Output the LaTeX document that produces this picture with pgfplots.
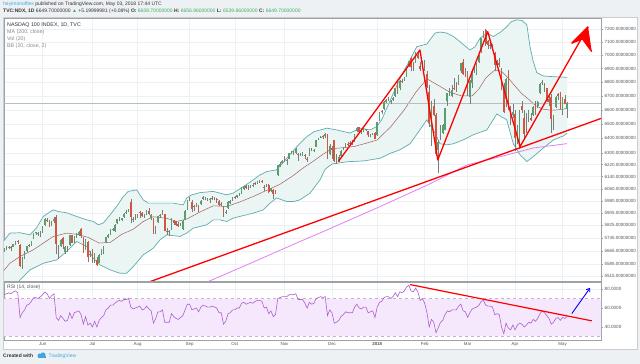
\documentclass[border=0pt]{standalone}
\usepackage{pgfplots}
\pgfplotsset{compat=1.18}
\usepackage{pgfplotstable}
\usetikzlibrary{arrows.meta}
\usepackage{fontspec}
\setmainfont{Liberation Sans}
\definecolor{bgc}{HTML}{EEF1F4}
\definecolor{panelb}{HTML}{C9CDD1}
\definecolor{axc}{HTML}{9DA2A7}
\definecolor{gridc}{HTML}{EEF1F3}
\definecolor{labc}{HTML}{555555}
\definecolor{txtc}{HTML}{333333}
\definecolor{legc}{HTML}{8A8A8A}
\definecolor{userc}{HTML}{3FA7E0}
\definecolor{upg}{HTML}{3DAF63}
\definecolor{upc}{HTML}{5A9E6F}
\definecolor{dnc}{HTML}{D05642}
\definecolor{wickc}{HTML}{7B7B7B}
\definecolor{bbline}{HTML}{5FACAC}
\definecolor{bbfill}{HTML}{EBF5F4}
\definecolor{basisc}{HTML}{A06060}
\definecolor{ma200c}{HTML}{E57EF2}
\definecolor{rsic}{HTML}{AD5FCB}
\definecolor{rsifill}{HTML}{F5E8FD}
\definecolor{rsidash}{HTML}{C7AFD3}
\definecolor{badge}{HTML}{5E9B72}
\definecolor{pricel}{HTML}{B5BEC0}
\newcommand\fs[1]{\fontsize{#1}{#1}\selectfont}

\pgfplotstableread{
i o h l c
-17 5668 5685 5660 5676
-16 5680 5695 5672 5688
-15 5686 5700 5678 5693
-14 5690 5698 5665 5689
-13 5692 5712 5688 5708
-12 5710 5728 5705 5722
-11 5726 5735 5712 5720
-10 5705 5708 5570 5578
-9 5580 5630 5560 5615
-8 5625 5668 5618 5655
-7 5665 5700 5660 5695
-6 5702 5710 5688 5700
-5 5705 5730 5698 5726
-4 5740 5780 5738 5775
-3 5778 5785 5765 5778
-2 5772 5785 5760 5775
-1 5778 5790 5755 5788
0 5792 5820 5780 5816
1 5825 5872 5820 5866
2 5860 5870 5845 5855
3 5845 5860 5815 5822
4 5830 5850 5820 5846
5 5850 5878 5838 5868
6 5880 5890 5650 5708
7 5690 5705 5620 5680
8 5700 5740 5690 5735
9 5745 5752 5680 5712
10 5660 5700 5650 5690
11 5690 5700 5660 5681
12 5705 5768 5700 5763
13 5765 5768 5715 5717
14 5725 5760 5715 5757
15 5758 5775 5748 5765
16 5765 5790 5760 5783
17 5800 5810 5745 5756
18 5745 5750 5655 5656
19 5675 5740 5672 5733
20 5722 5725 5600 5631
21 5650 5665 5630 5647
22 5665 5680 5595 5600
23 5615 5655 5595 5648
24 5610 5630 5575 5584
25 5595 5650 5593 5644
26 5645 5680 5640 5677
27 5670 5700 5650 5693
28 5720 5755 5715 5752
29 5755 5772 5745 5766
30 5770 5800 5765 5796
31 5800 5810 5790 5801
32 5790 5832 5785 5829
33 5840 5866 5835 5863
34 5868 5880 5855 5872
35 5860 5875 5850 5870
36 5878 5905 5875 5900
37 5905 5920 5895 5912
38 5920 5930 5910 5922
39 5975 5996 5840 5880
40 5860 5880 5845 5868
41 5885 5895 5860 5870
42 5880 5900 5875 5898
43 5910 5915 5870 5906
44 5905 5908 5880 5882
45 5888 5895 5875 5888
46 5890 5920 5888 5918
47 5915 5935 5890 5898
48 5875 5895 5860 5889
49 5870 5872 5770 5773
50 5780 5820 5770 5808
51 5845 5885 5840 5883
52 5890 5895 5875 5888
53 5895 5920 5890 5907
54 5895 5898 5790 5792
55 5790 5810 5765 5787
56 5785 5795 5760 5786
57 5800 5875 5798 5872
58 5855 5860 5830 5841
59 5850 5855 5820 5825
60 5835 5845 5815 5819
61 5830 5840 5820 5837
62 5800 5858 5795 5854
63 5860 5920 5858 5918
64 5930 5990 5925 5988
65 5995 6005 5980 5990
66 5975 5985 5910 5930
67 5940 5955 5915 5947
68 5955 5970 5940 5960
69 5950 5955 5910 5919
70 5960 5990 5955 5984
71 5995 6010 5985 6007
72 6000 6005 5990 6000
73 5990 5998 5980 5986
74 5985 6000 5970 5994
75 6000 6010 5985 5998
76 6000 6005 5985 5995
77 5995 6000 5965 5988
78 5980 5985 5950 5958
79 5955 5972 5948 5960
80 5945 5950 5880 5897
81 5910 5925 5895 5913
82 5935 5980 5930 5975
83 5965 5985 5960 5980
84 5985 6008 5980 6004
85 6008 6015 5995 6004
86 6008 6022 6000 6019
87 6015 6030 6010 6019
88 6030 6072 6028 6070
89 6060 6080 6055 6076
90 6078 6085 6060 6068
91 6080 6088 6055 6074
92 6075 6088 6065 6085
93 6082 6095 6075 6083
94 6095 6102 6088 6094
95 6100 6112 6092 6109
96 6105 6115 6098 6110
97 6112 6118 6098 6107
98 6075 6085 6045 6070
99 6085 6090 6070 6080
100 6085 6090 6030 6038
101 6045 6065 6040 6060
102 6055 6060 5995 6028
103 6045 6055 6025 6038
104 6150 6220 6145 6217
105 6210 6235 6205 6226
106 6232 6250 6222 6248
107 6270 6280 6235 6251
108 6245 6260 6220 6249
109 6260 6300 6258 6296
110 6295 6310 6290 6300
111 6302 6315 6285 6300
112 6300 6330 6292 6326
113 6295 6300 6245 6290
114 6282 6298 6275 6293
115 6280 6305 6278 6296
116 6285 6292 6255 6280
117 6260 6270 6240 6254
118 6280 6335 6278 6331
119 6330 6335 6310 6314
120 6318 6325 6305 6320
121 6340 6390 6338 6388
122 6392 6402 6388 6399
123 6405 6415 6400 6411
124 6412 6420 6395 6406
125 6415 6440 6400 6431
126 6430 6432 6255 6270
127 6290 6360 6285 6346
128 6330 6345 6260 6320
129 6385 6390 6235 6245
130 6245 6295 6225 6250
131 6240 6285 6235 6270
132 6275 6320 6272 6312
133 6330 6342 6318 6334
134 6340 6368 6335 6364
135 6362 6375 6350 6358
136 6365 6380 6355 6362
137 6368 6385 6352 6360
138 6380 6432 6375 6428
139 6450 6480 6445 6473
140 6478 6480 6440 6447
141 6460 6465 6430 6444
142 6452 6475 6445 6461
143 6458 6465 6450 6460
144 6450 6452 6410 6420
145 6420 6432 6408 6425
146 6430 6440 6420 6435
147 6440 6442 6395 6397
148 6420 6515 6415 6511
149 6520 6585 6518 6575
150 6590 6600 6570 6584
151 6605 6660 6600 6654
152 6655 6680 6650 6672
153 6685 6695 6660 6676
154 6655 6670 6640 6660
155 6672 6690 6665 6687
156 6700 6760 6695 6757
157 6790 6810 6715 6735
158 6760 6815 6740 6809
159 6810 6825 6790 6806
160 6815 6840 6805 6835
161 6840 6905 6835 6902
162 6920 6960 6915 6953
163 6980 6990 6880 6909
164 6940 6950 6885 6903
165 6945 7025 6940 7022
166 7005 7015 6970 6979
167 6920 6950 6880 6893
168 6925 6960 6910 6949
169 6920 6965 6880 6919
170 6860 6880 6760 6767
171 6730 6780 6480 6503
172 6400 6660 6350 6650
173 6630 6680 6555 6560
174 6560 6580 6280 6290
175 6320 6390 6165 6372
176 6420 6490 6390 6465
177 6440 6500 6430 6490
178 6460 6615 6455 6611
179 6660 6718 6630 6717
180 6710 6760 6700 6712
181 6700 6780 6695 6745
182 6760 6830 6745 6747
183 6770 6800 6730 6749
184 6790 6850 6780 6850
185 6880 6940 6870 6939
186 6950 6970 6855 6856
187 6890 6905 6840 6847
188 6850 6880 6700 6734
189 6690 6815 6640 6810
190 6790 6895 6760 6882
191 6900 6915 6870 6905
192 6860 6945 6855 6936
193 6950 6998 6940 6993
194 7030 7130 7020 7129
195 7140 7187 7130 7176
196 7195 7200 7070 7084
197 7110 7120 7050 7075
198 7080 7100 7045 7071
199 7070 7085 7050 7058
200 7020 7025 6880 6926
201 6930 6965 6920 6944
202 6940 6980 6915 6926
203 6880 6905 6745 6751
204 6750 6790 6575 6582
205 6680 6830 6620 6826
206 6870 6890 6595 6612
207 6590 6625 6490 6545
208 6560 6640 6540 6581
209 6570 6600 6310 6399
210 6420 6490 6360 6481
211 6330 6600 6325 6590
212 6630 6660 6580 6599
213 6540 6600 6400 6431
214 6480 6580 6440 6457
215 6540 6600 6510 6582
216 6540 6580 6520 6527
217 6560 6630 6555 6618
218 6650 6665 6560 6580
219 6630 6660 6610 6652
220 6720 6795 6715 6788
221 6795 6815 6780 6795
222 6770 6790 6730 6760
223 6755 6760 6655 6667
224 6680 6700 6630 6655
225 6690 6710 6440 6533
226 6545 6565 6460 6555
227 6620 6700 6610 6690
228 6710 6720 6670 6698
229 6720 6730 6605 6605
230 6590 6695 6560 6690
231 6680 6705 6640 6644
232 6608.7 6656.96 6539.86 6649.7
}\ohlc

\pgfplotstableread{
i p
-17.4 5725
-14.5 5777
-10 5779
-5.6 5766
-2.7 5810
0.3 5882
4.7 5924
6.9 5913
10.6 5905
15 5882
19.5 5860
22.4 5850
24.6 5829
26.8 5840
29.8 5892
32.7 5945
35.7 6010
37.9 6043
41.6 6053
44.5 5988
46.7 5967
51.9 5967
57.8 5967
62.2 5956
63.7 6000
65.9 6020
69.6 6035
75.5 6043
81.4 6020
84.3 6032
88.8 6075
93.2 6119
96.2 6152
99.1 6174
103.5 6185
108 6263
112.4 6342
116.8 6410
120 6445
125.7 6470
130 6458
136 6436
140.4 6470
144.8 6458
147.8 6481
150 6530
153 6640
156 6750
159 6860
162.5 6965
165.5 7065
169.9 7085
173.6 7170
175.8 7177
178.8 7170
181.7 7143
184.6 7104
189 7040
191.3 7065
193.5 7130
196.5 7169
199.4 7143
202.3 7174
204.6 7208
207.5 7260
209.7 7273
212 7268
214.2 7233
215.6 7065
217 6955
218.6 6870
221.5 6845
226 6840
232 6835
}\bbup

\pgfplotstableread{
i p
-17.4 5380
-14 5420
-10 5492
-5.6 5552
0.3 5592
6.2 5612
10.6 5663
15 5725
19.5 5694
22.4 5622
25.4 5582
29.8 5552
34.2 5532
37.2 5532
40.1 5572
44.5 5643
48.9 5683
51.9 5735
54.9 5766
60.8 5756
63.7 5777
66.6 5808
72.6 5829
75.5 5860
78.5 5860
81.4 5850
84.3 5871
87.3 5882
93.2 5903
97.6 5924
100.6 5967
103.5 6000
108 5977
110.9 5977
113.8 5988
118.3 6032
122.7 6119
125 6190
128 6225
135 6240
142 6245
149.3 6263
153.7 6296
158 6320
162.5 6362
166.9 6458
169.9 6528
172.8 6458
175.8 6362
178.8 6354
181.7 6362
186.1 6389
190.5 6424
196.5 6458
200.9 6570
205.3 6528
208.2 6362
211.2 6286
214.2 6241
217.1 6275
221.5 6333
226 6389
230.5 6417
232 6435
}\bblo

\pgfplotstableread{
i p
-17.4 5545
-14.5 5592
-10 5633
-4.2 5673
0.3 5715
4.7 5756
10.6 5777
15 5770
20 5751
25 5715
30 5720
35 5770
40 5800
44.5 5850
48.9 5880
54.9 5870
59.3 5850
63.7 5865
69.6 5910
75.5 5950
81.4 5945
87.3 5975
93.2 6010
99.1 6050
105 6090
110 6138
115 6195
120 6246
124 6290
128 6329
133 6335
138 6344
143 6365
148 6388
154 6480
160 6600
165 6724
170 6824
175 6776
180 6728
185 6700
190 6700
193 6750
196 6830
200 6890
203 6880
206 6830
209 6770
212 6715
215 6675
218 6630
221 6605
224 6598
227 6598
230 6603
232 6610
}\basis

\pgfplotstableread{
i p
68 5450
72.8 5480
90 5580
113.9 5725
122.7 5778
149.3 5945
171.4 6093
187.7 6218
202.3 6273
217 6333
232 6363
}\mab

\pgfplotstableread{
i r
-17 74
-16 75
-15 76
-14 75
-13 77
-12 78
-11 76
-10 50
-9 55
-8 58
-7 63
-6 64
-5 67
-4 71
-3 71
-2 70
-1 72
0 74
1 77
2 75
3 70
4 73
5 75
6 50
7 47
8 52
9 49
10 46
11 47
12 55
13 49
14 55
15 56
16 57
17 53
18 43
19 51
20 42
21 44
22 40
23 46
24 40
25 47
26 50
27 52
28 58
29 60
30 63
31 63
32 65
33 67
34 68
35 67
36 69
37 69
38 70
39 61
40 59
41 60
42 61
43 62
44 58
45 59
46 62
47 59
48 57
49 44
50 49
51 56
52 56
53 58
54 45
55 45
56 45
57 54
58 51
59 49
60 48
61 50
62 52
63 58
64 64
65 64
66 58
67 59
68 60
69 56
70 61
71 63
72 62
73 61
74 61
75 62
76 61
77 60
78 55
79 55
80 43
81 46
82 54
83 55
84 58
85 58
86 60
87 60
88 65
89 66
90 64
91 65
92 66
93 65
94 67
95 68
96 68
97 67
98 60
99 61
100 54
101 57
102 51
103 53
104 70
105 71
106 72
107 72
108 72
109 74
110 74
111 74
112 75
113 69
114 69
115 69
116 65
117 60
118 66
119 64
120 65
121 70
122 71
123 72
124 71
125 72
126 52
127 58
128 55
129 44
130 45
131 47
132 51
133 53
134 56
135 55
136 55
137 55
138 61
139 64
140 60
141 59
142 61
143 61
144 55
145 56
146 57
147 50
148 61
149 66
150 67
151 71
152 72
153 72
154 70
155 72
156 76
157 72
158 77
159 76
160 78
161 82
162 84
163 78
164 77
165 81
166 77
167 68
168 70
169 65
170 55
171 40
172 48
173 45
174 34
175 39
176 45
177 47
178 53
179 57
180 56
181 58
182 58
183 58
184 62
185 64
186 57
187 56
188 50
189 55
190 59
191 60
192 61
193 63
194 67
195 68
196 63
197 62
198 62
199 61
200 53
201 54
202 53
203 40
204 33
205 44
206 39
207 37
208 42
209 37
210 42
211 44
212 43
213 40
214 42
215 45
216 44
217 48
218 46
219 49
220 54
221 57
222 55
223 52
224 49
225 43
226 45
227 49
228 50
229 47
230 50
231 49
232 51
}\rsi

% ---- build candle segment lists (one path per kind, separated by nan jumps)
\pgfplotstablegetrowsof{\ohlc}
\pgfmathtruncatemacro\lastrow{\pgfplotsretval-1}
\gdef\wickcoords{}\gdef\upcoords{}\gdef\dncoords{}
\foreach \r in {0,...,\lastrow}{%
  \pgfplotstablegetelem{\r}{i}\of\ohlc\let\cI\pgfplotsretval
  \pgfplotstablegetelem{\r}{o}\of\ohlc\let\cO\pgfplotsretval
  \pgfplotstablegetelem{\r}{h}\of\ohlc\let\cH\pgfplotsretval
  \pgfplotstablegetelem{\r}{l}\of\ohlc\let\cL\pgfplotsretval
  \pgfplotstablegetelem{\r}{c}\of\ohlc\let\cC\pgfplotsretval
  \xdef\wickcoords{\wickcoords (\cI,\cL) (\cI,\cH) (\cI,nan)}%
  \pgfmathsetmacro\bLo{min(\cO,\cC)}%
  \pgfmathsetmacro\bHi{max(max(\cO,\cC),\bLo+3)}%
  \pgfmathtruncatemacro\isup{\cC>=\cO}%
  \ifnum\isup=1
    \xdef\upcoords{\upcoords (\cI,\bLo) (\cI,\bHi) (\cI,nan)}%
  \else
    \xdef\dncoords{\dncoords (\cI,\bLo) (\cI,\bHi) (\cI,nan)}%
  \fi
}
% ---- band polygon: upper band forward, lower band backward
\gdef\bandcoords{}
\pgfplotstablegetrowsof{\bbup}
\pgfmathtruncatemacro\nup{\pgfplotsretval-1}
\foreach \r in {0,...,\nup}{%
  \pgfplotstablegetelem{\r}{i}\of\bbup\let\cI\pgfplotsretval
  \pgfplotstablegetelem{\r}{p}\of\bbup\let\cP\pgfplotsretval
  \xdef\bandcoords{\bandcoords (\cI,\cP)}%
}
\pgfplotstablegetrowsof{\bblo}
\pgfmathtruncatemacro\nlo{\pgfplotsretval-1}
\foreach \r in {\nlo,...,0}{%
  \pgfplotstablegetelem{\r}{i}\of\bblo\let\cI\pgfplotsretval
  \pgfplotstablegetelem{\r}{p}\of\bblo\let\cP\pgfplotsretval
  \xdef\bandcoords{\bandcoords (\cI,\cP)}%
}
\pgfplotsset{
  wickstyle/.style={wickc, line width=0.45pt, unbounded coords=jump, mark=none},
  upstyle/.style={upc, line width=1.6pt, unbounded coords=jump, mark=none},
  dnstyle/.style={dnc, line width=1.6pt, unbounded coords=jump, mark=none},
  bandstyle/.style={draw=none, fill=bbfill, mark=none},
}

\begin{document}
\begin{tikzpicture}[x=1pt,y=1pt]
\fill[bgc] (0,0) rectangle (640,364);
\path[use as bounding box] (0,0) rectangle (640,364);
\fill[white] (3,15) rectangle (637,347);
\draw[panelb, line width=0.6pt] (3,15) rectangle (637,347);

\node[anchor=west, inner sep=0pt, font=\fs{5}, text=txtc] at (3,359.5)
  {{\color{userc}heyimonoffles} published on TradingView.com, May 03, 2018 17:44 UTC};
\node[anchor=west, inner sep=0pt, font=\fs{5}, text=txtc] at (3,352.6)
  {\textbf{TVC:NDX, 1D} 6649.70000000 {\color{upg}▲} +5.19999981 (+0.08\%) \textbf{O:} {\color{upg}6608.70000000} \textbf{H:} {\color{upg}6656.96000000} \textbf{L:} {\color{upg}6539.86000000} \textbf{C:} {\color{upg}6649.70000000}};

% ---------------- price pane
\begin{axis}[
  at={(4pt,82pt)}, anchor=south west, scale only axis,
  width=597pt, height=264pt,
  xmin=-17.1, xmax=247, ymode=log, ymin=5480.4, ymax=7288.4,
  axis line style={axc, line width=0.6pt},
  xtick={0,22,42,65,85,107,128,148,169,188,209,230}, xticklabels={},
  xtick style={draw=none},
  ytick={5515,5585,5665,5745,5825,5905,5980,6060,6140,6220,6300,6400,6500,6600,6700,6800,6900,7000,7100,7200},
  yticklabels={5515.00000000,5585.00000000,5665.00000000,5745.00000000,5825.00000000,5905.00000000,5980.00000000,6060.00000000,6140.00000000,6220.00000000,6300.00000000,6400.00000000,6500.00000000,6600.00000000,6700.00000000,6800.00000000,6900.00000000,7000.00000000,7100.00000000,7200.00000000},
  ytick pos=right, yticklabel pos=right,
  tick align=outside, major tick length=2pt,
  ytick style={axc, line width=0.4pt},
  yticklabel style={font=\fs{4.5}, text=labc, inner sep=0pt, xshift=1.5pt},
  xmajorgrids, ymajorgrids, grid style={gridc, line width=0.5pt},
]
\edef\tmp{\noexpand\addplot[bandstyle] coordinates {\bandcoords};}\tmp
\addplot[bbline, line width=0.7pt, mark=none] table[x=i,y=p] {\bbup};
\addplot[bbline, line width=0.7pt, mark=none] table[x=i,y=p] {\bblo};
\addplot[basisc, line width=0.5pt, mark=none] table[x=i,y=p] {\basis};
\addplot[ma200c, line width=0.8pt, mark=none] table[x=i,y=p] {\mab};
\addplot[pricel, line width=0.5pt, mark=none] coordinates {(-20,6649.7) (250,6649.7)};
\edef\tmp{\noexpand\addplot[wickstyle] coordinates {\wickcoords};}\tmp
\edef\tmp{\noexpand\addplot[upstyle] coordinates {\upcoords};}\tmp
\edef\tmp{\noexpand\addplot[dnstyle] coordinates {\dncoords};}\tmp
% drawn annotations
\addplot[red, line width=1.3pt, mark=none] coordinates {(45,5470) (249,6550)};
\addplot[red, line width=1.3pt, line join=round, mark=none] coordinates {(130.8,6241) (166.9,7040) (174.8,6252) (196.9,7181) (211.2,6343) (241.3,7218)};
\addplot[red, fill=red, line width=1.4pt, line join=round, mark=none] coordinates {(241.3,7218) (234.1,7092) (238.8,7125) (242.9,7028)};
\node[fill=badge, text=white, font=\fs{4.5}, inner sep=1.2pt, anchor=west] at (axis cs:247,6649.7) {6649.70000000};
\end{axis}

% ---------------- RSI pane
\begin{axis}[
  at={(4pt,24pt)}, anchor=south west, scale only axis,
  width=597pt, height=58pt,
  xmin=-17.1, xmax=247, ymin=26.3, ymax=87.4,
  axis line style={axc, line width=0.6pt},
  xtick={0,22,42,65,85,107,128,148,169,188,209,230},
  xticklabels={Jun,Jul,Aug,Sep,Oct,Nov,Dec,\textbf{2018},Feb,Mar,Apr,May},
  xtick style={draw=none},
  xticklabel style={font=\fs{4.4}, text=labc, inner sep=0pt},
  ytick={40,60,80}, yticklabels={40.0000,60.0000,80.0000},
  ytick pos=right, yticklabel pos=right,
  tick align=outside, major tick length=2pt,
  ytick style={axc, line width=0.4pt},
  yticklabel style={font=\fs{4.6}, text=labc, inner sep=0pt, xshift=1.5pt},
  xmajorgrids, ymajorgrids, grid style={gridc, line width=0.5pt},
]
\addplot[draw=none, fill=rsifill, mark=none] coordinates {(-20,30) (250,30) (250,70) (-20,70)};
\addplot[rsidash, dashed, line width=0.5pt, mark=none] coordinates {(-20,70) (250,70)};
\addplot[rsidash, dashed, line width=0.5pt, mark=none] coordinates {(-20,30) (250,30)};
\addplot[rsic, line width=0.6pt, mark=none] table[x=i,y=r] {\rsi};
\addplot[red, line width=1.2pt, mark=none] coordinates {(162.5,84.7) (242.9,46.5)};
\addplot[blue, line width=0.9pt, mark=none, -{Straight Barb[length=3pt,width=4.5pt]}] coordinates {(234.1,54.2) (242.2,81.2)};
\end{axis}
% pane separator
\draw[axc, line width=1.1pt] (4,82) -- (601,82);

% legends and footer
\node[anchor=west, inner sep=0pt, font=\fs{5.3}, text=txtc] at (7,339) {NASDAQ 100 INDEX, 1D, TVC};
\node[anchor=west, inner sep=0pt, font=\fs{5.3}, text=legc] at (7,331.5) {MA (200, close)};
\node[anchor=west, inner sep=0pt, font=\fs{5.3}, text=legc] at (7,324.7) {Vol (20)};
\node[anchor=west, inner sep=0pt, font=\fs{5.3}, text=legc] at (7,317.7) {BB (20, close, 2)};
\node[anchor=west, inner sep=0pt, font=\fs{5}, text=labc] at (7,77) {RSI (14, close)};

\node[anchor=west, inner sep=0pt, font=\fs{5}\bfseries, text=txtc] at (3,8) {Created with};
\fill[userc] (37.5,6) rectangle (45.5,8.2);
\fill[userc] (39.6,8.4) circle (2.1);
\fill[userc] (43,9.0) circle (2.6);
\node[anchor=west, inner sep=0pt, font=\fs{5}, text=userc] at (48.5,8) {TradingView};
\end{tikzpicture}
\end{document}
